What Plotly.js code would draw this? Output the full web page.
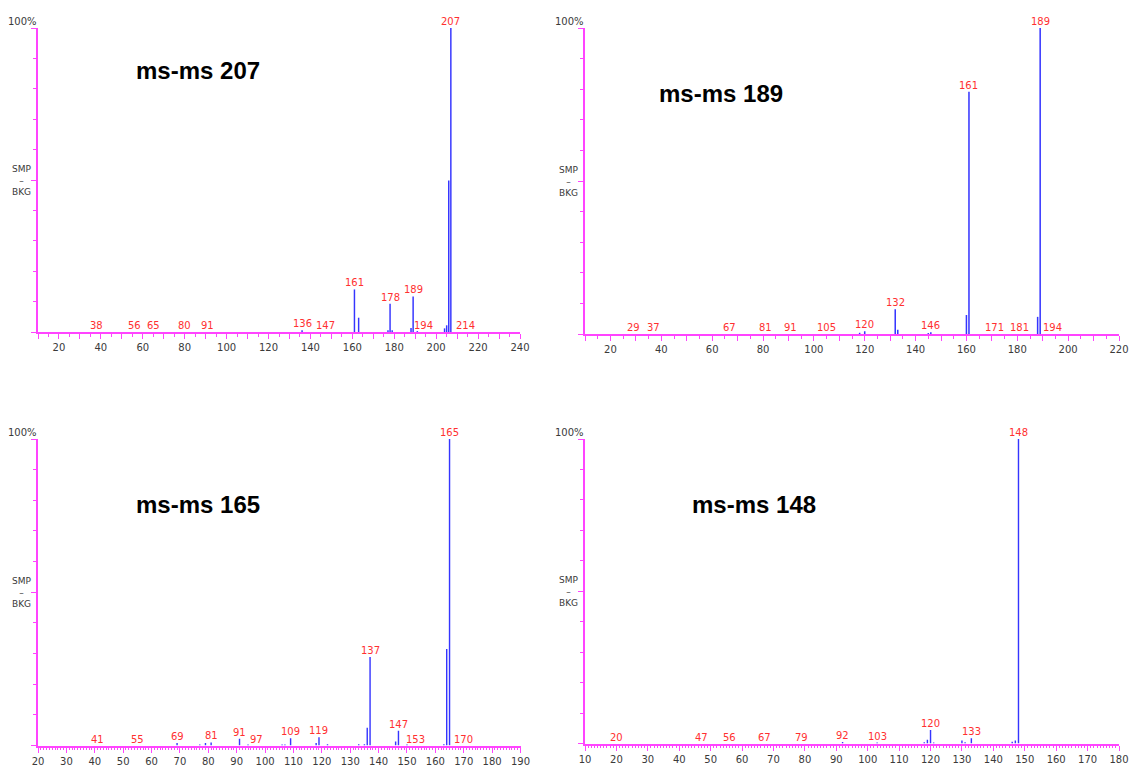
<!DOCTYPE html>
<html>
<head>
<meta charset="utf-8">
<script src="https://cdn.plot.ly/plotly-3.0.1.min.js"></script>
<style>html,body{margin:0;padding:0;background:#fff;}#chart{width:1129px;height:768px;}</style>
</head>
<body>
<div id="chart"></div>
<script>
// ---- data: ms-ms 207 ----
const mz207 = [136, 161, 163, 177, 178, 179, 188, 189, 191, 204, 205, 206, 207];
const int207 = [0.6, 14.0, 4.7, 0.6, 9.3, 0.6, 1.3, 11.7, 0.3, 1.2, 2.2, 49.8, 100];
const labels207 = [38, 56, 65, 80, 91, 136, 147, 161, 178, 189, 194, 214, 207];

// ---- data: ms-ms 189 ----
const mz189 = [118, 120, 132, 133, 145, 146, 160, 161, 188, 189];
const int189 = [0.4, 0.9, 8.1, 1.4, 0.3, 0.6, 6.2, 79.2, 5.6, 100];
const labels189 = [29, 37, 67, 81, 91, 105, 120, 132, 146, 161, 171, 181, 189, 194];

// ---- data: ms-ms 165 ----
const mz165 = [69, 77, 79, 81, 91, 94, 106, 107, 109, 118, 119, 122, 133, 135, 136, 137, 146, 147, 150, 163, 164, 165];
const int165 = [0.8, 0.3, 0.8, 1.0, 2.2, 0.3, 0.3, 0.3, 2.4, 0.8, 2.7, 0.4, 0.4, 0.4, 5.8, 28.9, 1.3, 4.8, 0.3, 0.4, 31.5, 100];
const labels165 = [41, 55, 69, 81, 91, 97, 109, 119, 137, 147, 153, 165, 170];

// ---- data: ms-ms 148 ----
const mz148 = [92, 103, 118, 119, 120, 121, 130, 131, 133, 146, 147, 148];
const int148 = [0.5, 0.3, 0.4, 1.2, 4.4, 0.3, 1.0, 0.4, 1.7, 0.6, 1.0, 100];
const labels148 = [20, 47, 56, 67, 79, 92, 103, 120, 133, 148];

const titles = ["ms-ms 207", "ms-ms 189", "ms-ms 165", "ms-ms 148"];

const W = 1129, H = 768;
const MAG = '#ff44ff';
const BAR = '#3535ff';
const RED = '#ff3030';
const TXT = '#3a3a3a';

const panels = [
  {mz: mz207, it: int207, lab: labels207, xr: [10, 240], labStep: 20, major: 10, minor: 5, minorLen: 3, barW: 0.7,
   px: [38, 520], py: [28, 332], tpos: [198, 70]},
  {mz: mz189, it: int189, lab: labels189, xr: [10, 220], labStep: 20, major: 10, minor: 5, minorLen: 3, barW: 0.6,
   px: [585, 1119], py: [28, 334], tpos: [721, 93]},
  {mz: mz165, it: int165, lab: labels165, xr: [20, 190], labStep: 10, major: 10, minor: 1, minorLen: 2, barW: 0.5,
   px: [38, 520.5], py: [439, 745.5], tpos: [198, 504]},
  {mz: mz148, it: int148, lab: labels148, xr: [10, 180], labStep: 10, major: 10, minor: 1, minorLen: 2, barW: 0.45,
   px: [585, 1119], py: [439, 743.5], tpos: [754, 504]}
];

const traces = [];
const layout = {
  width: W, height: H,
  margin: {l: 0, r: 0, t: 0, b: 0},
  paper_bgcolor: '#ffffff', plot_bgcolor: 'rgba(0,0,0,0)',
  showlegend: false,
  annotations: [],
  font: {family: 'DejaVu Sans, sans-serif', size: 10, color: TXT}
};

panels.forEach((p, i) => {
  const n = i + 1;
  const xa = 'x' + (n === 1 ? '' : n), ya = 'y' + (n === 1 ? '' : n);
  const xKey = 'xaxis' + (n === 1 ? '' : n), yKey = 'yaxis' + (n === 1 ? '' : n);
  const rKey = 'yaxis' + (n + 4);
  const xdom = [p.px[0] / W, p.px[1] / W];
  const ydom = [1 - p.py[1] / H, 1 - p.py[0] / H];

  traces.push({
    type: 'bar', x: p.mz, y: p.it, xaxis: xa, yaxis: ya,
    width: p.barW, marker: {color: BAR, line: {width: 0}}, hoverinfo: 'x+y'
  });

  const tv = [], tt = [];
  for (let v = p.xr[0]; v <= p.xr[1]; v += p.major) {
    tv.push(v);
    tt.push(v % p.labStep === 0 && !(p.labStep === 20 && v === 10) ? String(v) : '');
  }

  layout[xKey] = {
    domain: xdom, anchor: ya, range: p.xr, fixedrange: true,
    showgrid: false, zeroline: false,
    showline: true, linecolor: MAG, linewidth: 2,
    tickmode: 'array', tickvals: tv, ticktext: tt,
    ticks: 'outside', ticklen: 5, tickwidth: 1, tickcolor: MAG,
    minor: {tickmode: 'linear', tick0: p.xr[0], dtick: p.minor, ticks: 'outside', ticklen: p.minorLen, tickwidth: 1, tickcolor: MAG, showgrid: false},
    tickfont: {family: 'DejaVu Sans, sans-serif', size: 10, color: TXT}
  };
  const yCommon = {
    domain: ydom, anchor: xa, range: [0, 100], fixedrange: true,
    showgrid: false, zeroline: false, showticklabels: false,
    showline: true, linecolor: MAG, linewidth: 2,
    tickmode: 'array', tickvals: [0, 50, 100],
    ticklen: 5, tickwidth: 1, tickcolor: MAG
  };
  layout[yKey] = Object.assign({}, yCommon, {
    ticks: 'outside',
    minor: {tickmode: 'linear', tick0: 0, dtick: 10, ticks: 'outside', ticklen: 3, tickwidth: 1, tickcolor: MAG, showgrid: false}
  });
  layout[rKey] = Object.assign({}, yCommon, {
    overlaying: ya, side: 'right', ticks: 'inside',
    minor: {tickmode: 'linear', tick0: 0, dtick: 10, ticks: 'inside', ticklen: 3, tickwidth: 1, tickcolor: MAG, showgrid: false}
  });

  // peak labels
  p.lab.forEach(m => {
    const k = p.mz.indexOf(m);
    const yv = k >= 0 ? p.it[k] : 0;
    layout.annotations.push({
      xref: xa, yref: ya, x: m, y: yv, text: String(m),
      showarrow: false, xanchor: 'center', yanchor: 'bottom', borderpad: 0,
      font: {family: 'DejaVu Sans, sans-serif', size: 10, color: RED}
    });
  });

  // 100% label
  layout.annotations.push({
    xref: 'paper', yref: 'paper', x: p.px[0] / W, y: 1 - p.py[0] / H,
    text: '100%', showarrow: false, xanchor: 'right', yanchor: 'bottom', borderpad: 0, yshift: 0,
    font: {family: 'DejaVu Sans, sans-serif', size: 10, color: TXT}
  });
  // SMP - BKG
  layout.annotations.push({
    xref: 'paper', yref: 'paper', x: (p.px[0] - 5) / W, y: 1 - ((p.py[0] + p.py[1]) / 2) / H,
    text: 'SMP<br>–<br>BKG', showarrow: false, xanchor: 'right', yanchor: 'middle', align: 'center', borderpad: 0,
    font: {family: 'DejaVu Sans, sans-serif', size: 9, color: TXT}
  });
  // panel title
  layout.annotations.push({
    xref: 'paper', yref: 'paper', x: p.tpos[0] / W, y: 1 - p.tpos[1] / H,
    text: '<b>' + titles[i] + '</b>', showarrow: false, xanchor: 'center', yanchor: 'middle',
    font: {family: 'Liberation Sans, Arial, sans-serif', size: 24, color: '#000000'}
  });
});

Plotly.newPlot('chart', traces, layout, {staticPlot: true, displayModeBar: false});
</script>
</body>
</html>
